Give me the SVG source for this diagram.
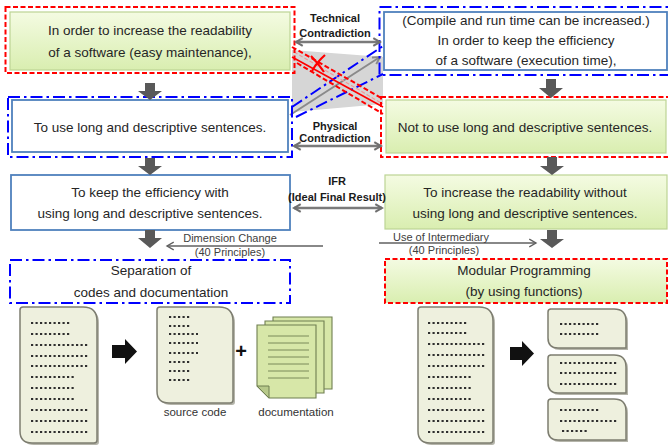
<svg xmlns="http://www.w3.org/2000/svg" width="668" height="446" viewBox="0 0 668 446">
  <defs>
    <linearGradient id="green" x1="0" y1="0" x2="0" y2="1">
      <stop offset="0" stop-color="#f4fbe2"/>
      <stop offset="1" stop-color="#d9eeb0"/>
    </linearGradient>
    <marker id="grayHead" viewBox="0 0 10 10" refX="8" refY="5" markerWidth="4" markerHeight="4" orient="auto-start-reverse">
      <path d="M1,1 L8,5 L1,9" fill="none" stroke="#707070" stroke-width="2.2"/>
    </marker>
    <marker id="thinHead" viewBox="0 0 10 10" refX="8" refY="5" markerWidth="6" markerHeight="6" orient="auto-start-reverse">
      <path d="M1,1 L8,5 L1,9" fill="none" stroke="#606060" stroke-width="1.4"/>
    </marker>
    <marker id="crossHead" viewBox="0 0 10 10" refX="8" refY="5" markerWidth="5" markerHeight="5" orient="auto">
      <path d="M1,1 L8,5 L1,9" fill="none" stroke="#8a8a8a" stroke-width="2"/>
    </marker>
  </defs>
  <style>
    text { font-family: "Liberation Sans", Arial, sans-serif; fill: #262626; text-anchor: middle; }
    .box { font-size: 13.5px; }
    .lbl { font-size: 11px; font-weight: bold; fill: #1a1a1a; }
    .note { font-size: 11px; fill: #404040; }
    .cap { font-size: 11.5px; fill: #333; }
    .greenBox { fill: url(#green); stroke: #bcd494; stroke-width: 1.2; }
    .whiteBox { fill: #ffffff; stroke: #4f81bd; stroke-width: 1.8; }
    .redDash { fill: none; stroke: #ff0000; stroke-width: 2; stroke-dasharray: 5 2.5; }
    .blueDash { fill: none; stroke: #0000ff; stroke-width: 2; stroke-dasharray: 12 4 2.5 4; }
    .down { fill: #595959; }
    .dbl { stroke: #7a7a7a; stroke-width: 2.4; fill: none; marker-start: url(#grayHead); marker-end: url(#grayHead); }
    .thin { stroke: #606060; stroke-width: 1.6; fill: none; marker-end: url(#thinHead); }
    .doc { fill: #eef0de; stroke: #7d7d70; stroke-width: 1.5; }
    .docShadow { fill: #b5b5aa; }
    .dots { stroke: #2e2e2e; stroke-width: 2; stroke-dasharray: 2.2 2.3; fill: none; }
    .page { fill: #d7e7a8; stroke: #6f7f50; stroke-width: 1.1; }
    .rule { stroke: #6f7f50; stroke-width: 0.9; }
  </style>

  <!-- crossing region between the two contradictions -->
  <g id="cross">
    <polygon points="292,50 383,57 383,104 292,112" fill="#d6d6d6"/>
    <line x1="292" y1="107" x2="383" y2="46" class="blueDash"/>
    <line x1="296" y1="117" x2="383" y2="74" class="blueDash"/>
    <line x1="290" y1="115" x2="380" y2="57" stroke="#8a8a8a" stroke-width="2" marker-end="url(#crossHead)"/>
    <line x1="292" y1="47" x2="383" y2="99" class="redDash"/>
    <line x1="294" y1="52" x2="383" y2="104" stroke="#f29a9a" stroke-width="1.2" stroke-dasharray="4 2"/>
    <line x1="292" y1="57" x2="383" y2="107" stroke="#ff0000" stroke-width="1.6"/>
    <line x1="297" y1="63" x2="383" y2="114" class="redDash"/>
    <path d="M311,56 Q318,63 324,72 M325,55 Q317,62 312,71" stroke="#ff0000" stroke-width="2.2" fill="none"/>
  </g>

  <!-- row 1 -->
  <g id="goal-readability">
    <rect x="10" y="12" width="280" height="58" class="greenBox"/>
    <rect x="5.5" y="7" width="289" height="66" class="redDash"/>
    <text class="box" x="150" y="35">In order to increase the readability</text>
    <text class="box" x="150" y="57">of a software (easy maintenance),</text>
  </g>
  <g id="goal-efficiency">
    <rect x="384" y="12" width="283" height="58" class="whiteBox"/>
    <rect x="379.5" y="7" width="292" height="68" class="blueDash"/>
    <text class="box" x="526" y="25">(Compile and run time can be increased.)</text>
    <text class="box" x="526" y="45">In order to keep the efficiency</text>
    <text class="box" x="526" y="65">of a software (execution time),</text>
  </g>

  <!-- row 2 -->
  <g id="use-long">
    <rect x="12" y="100" width="276" height="52" class="whiteBox"/>
    <rect x="8" y="97" width="284" height="60" class="blueDash"/>
    <text class="box" x="150" y="132">To use long and descriptive sentences.</text>
  </g>
  <g id="not-use-long">
    <rect x="386" y="100" width="280" height="53" class="greenBox"/>
    <rect x="381" y="97" width="290" height="60" class="redDash"/>
    <text class="box" x="525" y="132">Not to use long and descriptive sentences.</text>
  </g>

  <!-- row 3 -->
  <g id="keep-efficiency">
    <rect x="11" y="175" width="279" height="55" class="whiteBox"/>
    <text class="box" x="150" y="197">To keep the efficiency with</text>
    <text class="box" x="150" y="218">using long and descriptive sentences.</text>
  </g>
  <g id="increase-readability">
    <rect x="385" y="175" width="282" height="54" class="greenBox"/>
    <text class="box" x="525" y="197">To increase the readability without</text>
    <text class="box" x="525" y="218">using long and descriptive sentences.</text>
  </g>

  <!-- row 4 -->
  <g id="separation">
    <rect x="10" y="260" width="280" height="43" class="blueDash"/>
    <text class="box" x="151" y="275">Separation of</text>
    <text class="box" x="151" y="297">codes and documentation</text>
  </g>
  <g id="modular">
    <rect x="385" y="259" width="282" height="44" fill="url(#green)"/>
    <rect x="385" y="259" width="282" height="44" class="redDash"/>
    <text class="box" x="524" y="275">Modular Programming</text>
    <text class="box" x="524" y="296">(by using functions)</text>
  </g>

  <!-- connectors -->
  <g id="connectors">
    <polygon class="down" points="145,83 155,83 155,91 162,91 150,100 138,91 145,91"/>
    <polygon class="down" points="145,158 155,158 155,166 162,166 150,175 138,166 145,166"/>
    <polygon class="down" points="145,230 155,230 155,238 162,238 150,248 138,238 145,238"/>
    <polygon class="down" points="546,79 556,79 556,88 563,88 551,98 539,88 546,88"/>
    <polygon class="down" points="547,157 557,157 557,166 564,166 552,175 540,166 547,166"/>
    <polygon class="down" points="547,230 557,230 557,239 564,239 552,248 540,239 547,239"/>

    <line x1="296" y1="42" x2="380" y2="42" class="dbl"/>
    <text class="lbl" x="335" y="22">Technical</text>
    <text class="lbl" x="335" y="37">Contradiction</text>

    <line x1="294" y1="146" x2="381" y2="146" class="dbl"/>
    <text class="lbl" x="335" y="130">Physical</text>
    <text class="lbl" x="335" y="142">Contradiction</text>

    <line x1="294" y1="208" x2="382" y2="208" class="dbl"/>
    <text class="lbl" x="337" y="185">IFR</text>
    <text class="lbl" x="337" y="201">(Ideal Final Result)</text>

    <line x1="323" y1="246" x2="167" y2="246" class="thin"/>
    <text class="note" x="230" y="242">Dimension Change</text>
    <text class="note" x="230" y="256">(40 Principles)</text>

    <line x1="379" y1="243" x2="536" y2="243" class="thin"/>
    <text class="note" x="441" y="241">Use of Intermediary</text>
    <text class="note" x="444" y="254">(40 Principles)</text>
  </g>

  <!-- left illustration: one long file split into code and docs -->
  <g id="long-source-left">
    <path class="docShadow" d="M23,309 H85 Q99,309 99,323 V442 Q99,445 96,445 H34 Q22,445 22,433 V312 Q22,309 25,309 Z"/>
    <path class="doc" d="M23,307 H83 Q97,307 97,321 V440 Q97,443 94,443 H32 Q20,443 20,431 V310 Q20,307 23,307 Z"/>
    <path class="dots" d="M31,323 H71 M31,334 H71 M31,345 H89 M31,356 H89 M31,366 H89 M31,377 H75 M31,388 H75 M31,399 H75 M31,410 H89 M31,421 H89 M31,432 H89"/>
  </g>
  <polygon points="112,345 125,345 125,339 137,351.5 125,364 125,358 112,358" fill="#111"/>
  <g id="source-code">
    <path class="docShadow" d="M160,309 H221 Q235,309 235,323 V402 Q235,405 232,405 H171 Q159,405 159,393 V312 Q159,309 162,309 Z"/>
    <path class="doc" d="M160,307 H219 Q233,307 233,321 V400 Q233,403 230,403 H169 Q157,403 157,391 V310 Q157,307 160,307 Z"/>
    <path class="dots" d="M169,317 H191 M169,326 H191 M169,334 H198 M169,343 H198 M169,353 H198 M169,362 H191 M169,371 H191 M169,380 H191"/>
    <text class="cap" x="195" y="416">source code</text>
  </g>
  <text x="241" y="358" style="font-size:20px;font-weight:bold;fill:#111">+</text>
  <g id="documentation">
    <path class="page" d="M273,317 H332 V389 H285 L273,377 Z"/>
    <path class="page" d="M265,321 H324 V393 H277 L265,381 Z"/>
    <path class="page" d="M257,325 H316 V398 H269 L257,386 Z"/>
    <path d="M257,386 L269,386 L269,398 Z" fill="#b7c98a" stroke="#6f7f50" stroke-width="1"/>
    <path class="rule" d="M268,336 H309 M268,343 H309 M268,350 H309 M268,357 H309 M268,364 H309 M268,371 H309 M268,378 H309"/>
    <text class="cap" x="296" y="416">documentation</text>
  </g>

  <!-- right illustration: one long file split into functions -->
  <g id="long-source-right">
    <path class="docShadow" d="M421,309 H481 Q495,309 495,323 V442 Q495,445 492,445 H432 Q420,445 420,433 V312 Q420,309 423,309 Z"/>
    <path class="doc" d="M421,307 H479 Q493,307 493,321 V440 Q493,443 490,443 H430 Q418,443 418,431 V310 Q418,307 421,307 Z"/>
    <path class="dots" d="M428,323 H467 M428,333 H467 M428,344 H485 M428,355 H485 M428,366 H485 M428,377 H471 M428,388 H471 M428,399 H471 M428,410 H485 M428,421 H485 M428,432 H485"/>
  </g>
  <polygon points="510,347 522,347 522,341 534,353.5 522,366 522,360 510,360" fill="#111"/>
  <g id="function-1">
    <path class="docShadow" d="M551,311 H616 Q628,311 628,323 V350 H560 Q550,350 550,340 V314 Q550,311 553,311 Z"/>
    <path class="doc" d="M550,309 H614 Q626,309 626,321 V348 H558 Q548,348 548,338 V312 Q548,309 551,309 Z"/>
    <path class="dots" d="M560,324 H599 M560,334 H599"/>
  </g>
  <g id="function-2">
    <path class="docShadow" d="M551,357 H616 Q628,357 628,369 V395 H560 Q550,395 550,385 V360 Q550,357 553,357 Z"/>
    <path class="doc" d="M550,355 H614 Q626,355 626,367 V393 H558 Q548,393 548,383 V358 Q548,355 551,355 Z"/>
    <path class="dots" d="M560,363 H617 M560,373 H617 M560,384 H617"/>
  </g>
  <g id="function-3">
    <path class="docShadow" d="M551,401 H616 Q628,401 628,413 V442 H560 Q550,442 550,432 V404 Q550,401 553,401 Z"/>
    <path class="doc" d="M550,399 H614 Q626,399 626,411 V440 H558 Q548,440 548,430 V402 Q548,399 551,399 Z"/>
    <path class="dots" d="M560,410 H599 M560,421 H617 M562,431 H589"/>
  </g>
</svg>
